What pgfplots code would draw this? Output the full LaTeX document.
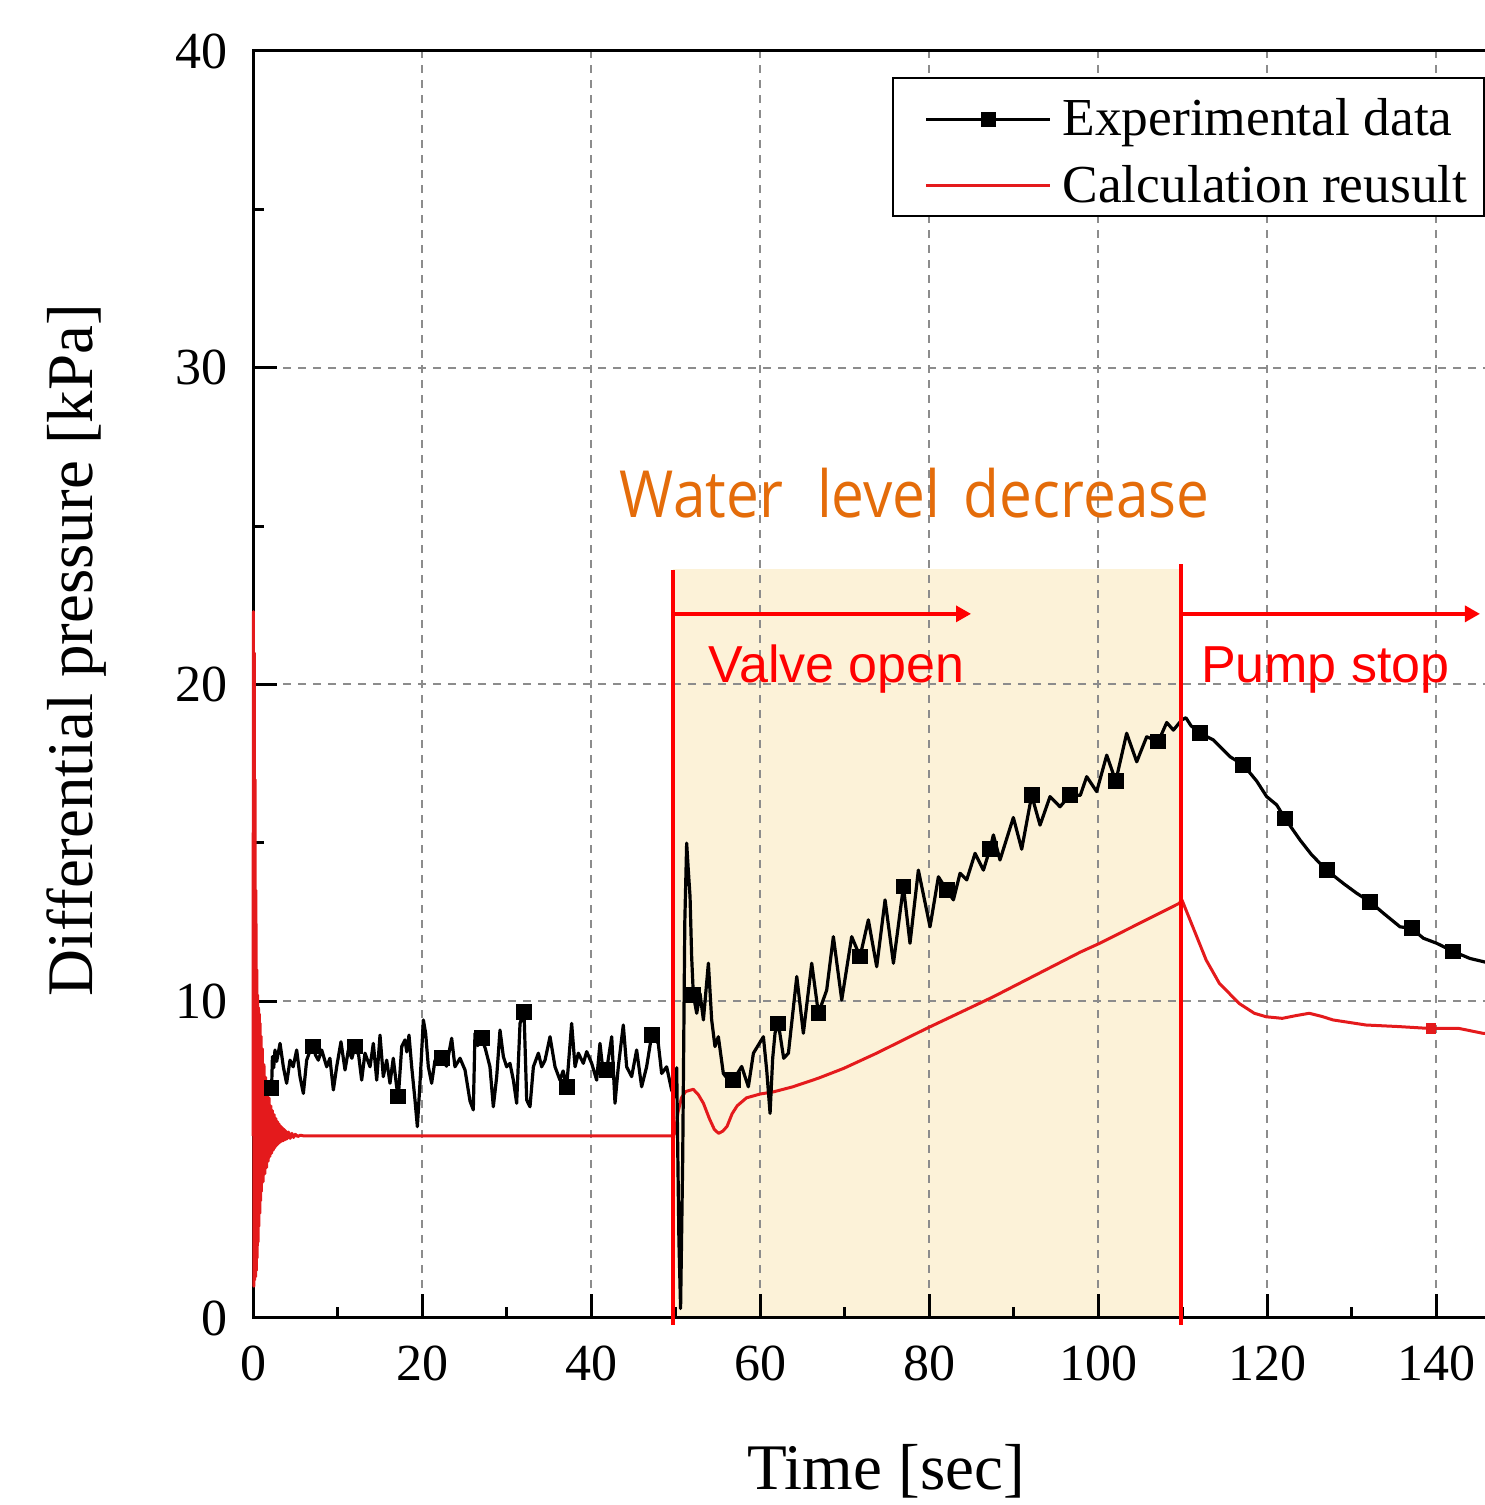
\documentclass[border=0pt]{standalone}
\usepackage{fontspec}
\setmainfont{Liberation Serif}
\newfontfamily\annfont{Liberation Sans}
\newfontfamily\wfont{Open Sans}
\usepackage{pgfplots}
\pgfplotsset{compat=1.18}
\usetikzlibrary{arrows.meta}
\definecolor{calcred}{RGB}{228,26,28}
\definecolor{annred}{RGB}{255,0,0}
\definecolor{wlorange}{RGB}{228,108,10}
\definecolor{shadecol}{RGB}{252,242,216}
\definecolor{gridgray}{RGB}{140,140,140}

\begin{document}
\begin{tikzpicture}
\begin{axis}[
  set layers,
  at={(2.53cm,1.87cm)}, anchor=south west,
  scale only axis,
  width=12.675cm, height=12.67cm,
  xmin=0, xmax=150, ymin=0, ymax=40,
  clip=false,
  axis line style={line width=0.3mm},
  tick style={black, line width=0.3mm},
  tick align=inside,
  major tick length=2.4mm, minor tick length=1.1mm,
  xtick={0,20,...,140}, ytick={0,10,...,40},
  minor xtick={10,30,...,130}, minor ytick={5,15,25,35},
  xtick pos=left, ytick pos=left,
  grid=major,
  major grid style={gridgray, dash pattern=on 0.8mm off 0.7mm, line width=0.2mm},
  /pgf/number format/assume math mode=true,
  scaled ticks=false,
  ticklabel style={font=\fontsize{14.8pt}{17pt}\selectfont},
  xticklabel shift=1.5mm, yticklabel shift=1.3mm,
  xlabel={Time [sec]}, ylabel={Differential pressure [kPa]},
  label style={font=\fontsize{18.5pt}{22pt}\selectfont},
  xlabel style={at={(axis description cs:0.4994,-0.1208)}, anchor=center},
  ylabel style={at={(axis description cs:-0.1396,0.5272)}, anchor=center},
  legend style={
    at={(axis description cs:0.5041,0.9795)}, anchor=north west,
    draw=black, line width=0.2mm, fill=white,
    inner xsep=1.1mm, inner ysep=0.5mm,
    row sep=0.54mm,
    font=\fontsize{15.2pt}{18pt}\selectfont,
    nodes={inner sep=0.5mm, text height=4.8mm, text depth=0.33mm},
    /tikz/every odd column/.append style={column sep=0.6mm},
  },
  legend cell align=left,
  legend image code/.code={
    \node[draw=none, fill=none, inner sep=0pt, minimum width=2.1mm, minimum height=0pt, anchor=east] at (0mm,0mm) {};
    \draw[mark repeat=2,mark phase=2,#1] plot coordinates {(0mm,-0.55mm) (6.18mm,-0.55mm) (12.36mm,-0.55mm)};
  },
]
\begin{pgfonlayer}{axis background}
\fill[shadecol] (axis cs:49.75,0) rectangle (axis cs:109.85,23.65);
\end{pgfonlayer}

\addlegendimage{black, line width=0.3mm, mark=square*, mark size=0.6mm, mark options={solid}}
\addlegendentry{Experimental data}
\addlegendimage{calcred, line width=0.3mm}
\addlegendentry{Calculation reusult}

% Calculation result
\addplot[calcred, line width=0.3mm, line join=round, forget plot] coordinates {
(0.00,5.75) (0.05,22.3) (0.10,1.0) (0.15,21.0) (0.20,1.2) (0.25,17.0) (0.30,1.3)
(0.35,13.5) (0.40,1.5) (0.45,11.0) (0.50,1.9) (0.55,10.2) (0.60,2.4) (0.65,9.8)
(0.70,2.9) (0.75,9.6) (0.80,3.3) (0.85,9.3) (0.90,3.7) (0.95,8.9) (1.00,4.0)
(1.10,8.5) (1.20,4.3) (1.30,8.0) (1.40,4.55) (1.50,7.6) (1.60,4.75) (1.70,7.25)
(1.80,4.95) (1.90,6.95) (2.00,5.1) (2.10,6.7) (2.20,5.2) (2.30,6.55) (2.40,5.3)
(2.50,6.42) (2.60,5.38) (2.70,6.3) (2.80,5.45) (2.90,6.2) (3.00,5.5) (3.10,6.12)
(3.20,5.55) (3.30,6.05) (3.40,5.58) (3.50,6.0) (3.60,5.6) (3.70,5.95) (3.80,5.63)
(3.90,5.9) (4.00,5.65) (4.20,5.87) (4.40,5.67) (4.60,5.83) (4.80,5.7) (5.00,5.8)
(5.30,5.73) (5.60,5.77) (6.00,5.75) (49.75,5.75)
(50.0,5.9) (50.3,6.5) (50.7,6.95) (51.2,7.15) (52.1,7.22) (52.7,7.05) (53.3,6.78)
(54.0,6.3) (54.6,5.95) (55.1,5.83) (55.6,5.9) (56.1,6.05) (56.7,6.45) (57.3,6.7)
(58.4,6.95) (60.0,7.07) (61.6,7.14) (63.9,7.30) (66.9,7.57) (69.9,7.88) (73.8,8.36)
(79.7,9.14) (87.6,10.14) (97.9,11.55) (100.2,11.83) (109.6,13.09) (109.93,13.2)
(111.2,12.36) (112.8,11.30) (114.35,10.57) (116.7,9.93) (118.5,9.62) (119.9,9.51)
(121.8,9.46) (123.5,9.55) (125.0,9.62) (126.5,9.52) (127.8,9.41) (131.7,9.25)
(135.6,9.20) (139.3,9.14) (142.75,9.14) (145.5,8.99) (147.0,8.95)
};
\addplot[calcred, only marks, mark=square*, mark size=0.45mm, forget plot] coordinates {(139.4,9.14)};

% Experimental data
\addplot[black, line width=0.32mm, line join=round, forget plot] coordinates {
(2.01,7.2) (2.2,7.25) (2.3,8.25) (2.45,7.9) (2.6,8.46) (2.8,8.1) (3.2,8.67) (3.59,7.93)
(3.98,7.41) (4.38,8.14) (4.75,7.93) (5.17,8.46) (5.56,7.62) (5.96,7.09) (6.35,8.14)
(6.7,8.4) (7.14,8.57) (7.4,8.3) (7.73,8.14) (8.13,8.46) (8.72,7.93) (9.1,8.2) (9.51,7.2)
(9.9,7.93) (10.41,8.72) (10.89,7.83) (11.28,8.46) (11.7,8.2) (12.07,8.57) (12.5,8.3)
(12.86,7.51) (13.25,8.36) (13.85,7.93) (14.24,8.67) (14.64,7.51) (15.03,8.93) (15.42,7.62)
(15.82,8.14) (16.21,7.41) (16.6,8.2) (17.0,7.3) (17.2,6.99) (17.6,8.57) (17.99,8.78)
(18.2,8.4) (18.46,8.93) (18.78,7.93) (19.17,6.88) (19.45,6.04) (19.76,7.41) (20.16,9.41)
(20.43,8.99) (20.75,7.93) (21.14,7.41) (21.54,8.14) (21.9,8.0) (22.33,8.2) (22.9,7.95)
(23.51,8.83) (23.9,7.93) (24.5,8.2) (25.09,7.83) (25.68,6.85) (26.07,6.57) (26.27,8.99)
(26.6,8.6) (27.06,8.83) (27.5,8.5) (28.04,7.93) (28.44,6.67) (28.84,7.62) (29.23,9.09)
(29.63,8.25) (30.02,7.93) (30.41,8.04) (30.81,7.51) (31.2,6.78) (31.6,9.3) (32.07,9.67)
(32.39,6.88) (32.78,6.67) (33.18,7.93) (33.77,8.36) (34.16,7.93) (34.56,8.14) (35.15,8.88)
(35.74,7.93) (36.33,7.51) (36.7,7.8) (37.12,7.3) (37.71,9.3) (38.11,7.93) (38.5,8.36)
(39.09,8.04) (39.49,8.41) (40.08,8.04) (40.67,7.51) (41.06,8.67) (41.45,7.72) (41.85,7.83)
(42.45,8.88) (42.84,6.78) (43.23,7.93) (43.82,9.25) (44.22,7.93) (44.81,7.62) (45.4,8.46)
(45.99,7.3) (46.58,7.93) (47.18,8.93) (47.96,8.67) (48.36,7.72) (48.95,7.93) (49.54,7.2)
(49.9,7.0)
(50.14,7.9) (50.4,2.5) (50.6,0.3) (50.85,5.0) (51.1,12.5) (51.32,14.99) (51.5,14.2)
(51.72,13.30) (51.91,11.41) (52.11,10.20) (52.51,9.62) (52.90,10.25) (53.30,9.41)
(53.89,11.20) (54.28,9.41) (54.67,8.57) (55.07,8.88) (55.66,7.72) (56.3,7.5) (56.85,7.51)
(57.83,7.94) (58.62,7.30) (59.22,8.36) (60.40,8.88) (60.8,7.8) (61.19,6.46) (61.5,8.2)
(61.78,9.0) (62.17,9.30) (62.8,8.2) (63.36,8.36) (64.35,10.78) (65.13,8.99) (66.12,11.20)
(66.91,9.62) (67.89,10.35) (68.68,12.04) (69.67,10.04) (70.85,12.04) (71.84,11.41)
(72.82,12.57) (73.81,11.09) (74.80,13.20) (75.79,11.20) (76.97,13.62) (77.75,11.83)
(78.74,14.14) (80.12,12.35) (81.11,13.93) (82.10,13.51) (82.89,13.20) (83.67,14.04)
(84.46,13.83) (85.45,14.67) (86.44,14.14) (87.2,14.8) (87.62,15.25) (88.40,14.46)
(89.98,15.8) (90.97,14.8) (92.15,16.5) (93.14,15.56) (94.32,16.46) (95.50,16.14)
(96.69,16.51) (97.9,16.5) (98.66,17.09) (99.84,16.62) (101.03,17.77) (102.1,16.95)
(103.39,18.46) (104.58,17.56) (105.76,18.35) (107.14,18.20) (108.13,18.8) (108.92,18.56)
(109.90,18.88) (110.4,18.95) (111.0,18.7) (112.07,18.46) (113.65,18.25) (115.62,17.72)
(117.20,17.46) (118.78,16.95) (119.96,16.46) (121.14,16.20) (122.13,15.77) (123.91,15.09)
(125.29,14.62) (127.06,14.14) (129.03,13.72) (130.61,13.41) (132.19,13.14) (133.77,12.78)
(135.74,12.35) (137.12,12.30) (138.50,11.99) (140.08,11.83) (142.05,11.57) (144.02,11.35)
(145.60,11.25) (147.0,11.15)
};
\addplot[black, only marks, mark=square*, mark size=0.72mm, forget plot] coordinates {
(2.2,7.25) (7.14,8.57) (12.07,8.57) (17.2,6.99) (22.33,8.2) (27.06,8.83) (32.07,9.67)
(37.12,7.30) (41.85,7.83) (47.18,8.93) (52.11,10.2) (56.85,7.51) (62.17,9.30) (66.91,9.62)
(71.84,11.41) (76.97,13.62) (82.1,13.51) (87.2,14.8) (92.15,16.5) (96.69,16.51) (102.1,16.95)
(107.14,18.2) (112.07,18.46) (117.2,17.46) (122.13,15.77) (127.06,14.14) (132.19,13.14)
(137.12,12.30) (142.05,11.57)
};

% annotations
\draw[annred, line width=0.4mm] (axis cs:49.75,-0.22) -- (axis cs:49.75,23.62);
\draw[annred, line width=0.4mm] (axis cs:109.85,-0.22) -- (axis cs:109.85,23.8);
\draw[annred, line width=0.33mm, -{Triangle[length=1.5mm,width=1.6mm]}] (axis cs:49.75,22.23) -- (axis cs:84.97,22.23);
\draw[annred, line width=0.33mm, -{Triangle[length=1.5mm,width=1.6mm]}] (axis cs:109.85,22.23) -- (axis cs:145.2,22.23);
\node[anchor=base, text=wlorange, inner sep=0] at (axis cs:78.3,25.26)
  {\scalebox{0.9}[1]{\wfont\fontsize{18.5pt}{22pt}\selectfont Water\hspace{3.8mm}level\hspace{2.6mm}decrease}};
\node[anchor=base, text=annred, inner sep=0, font=\annfont\fontsize{14.8pt}{17pt}\selectfont] at (axis cs:69.05,20.07) {Valve open};
\node[anchor=base, text=annred, inner sep=0, font=\annfont\fontsize{14.8pt}{17pt}\selectfont] at (axis cs:126.9,20.07) {Pump stop};
\end{axis}
\pgfresetboundingbox
\useasboundingbox (0,0) rectangle (14.84cm,15.05cm);
\end{tikzpicture}
\end{document}
